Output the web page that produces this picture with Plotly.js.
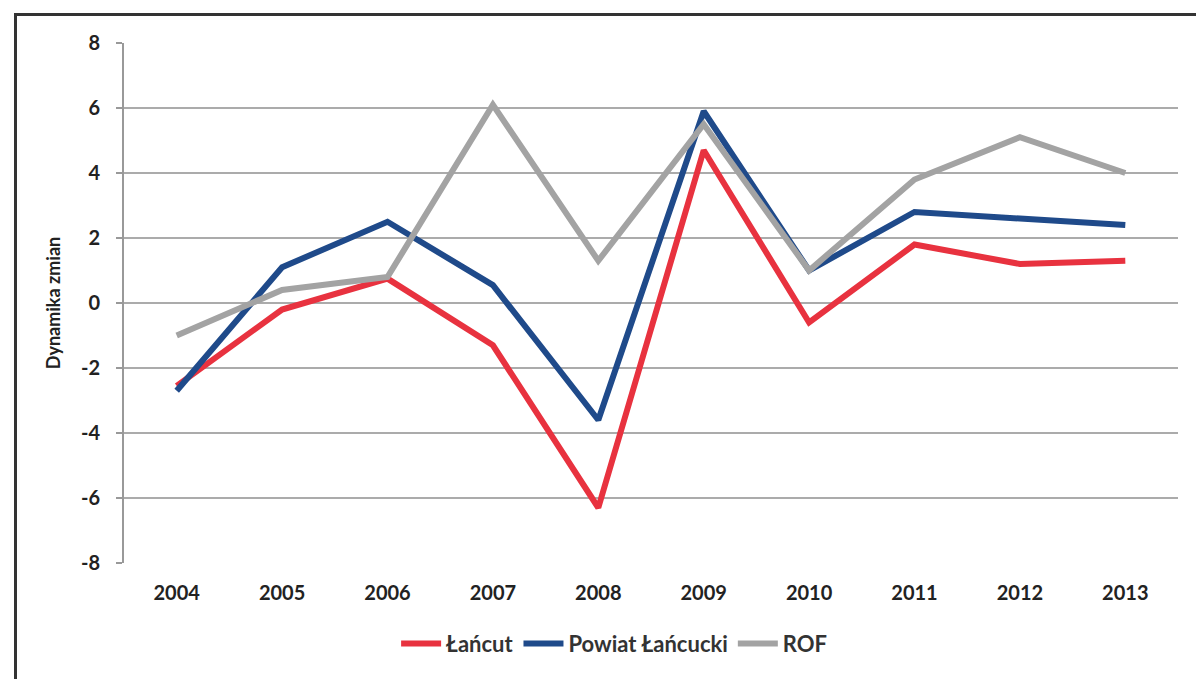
<!DOCTYPE html>
<html>
<head>
<meta charset="utf-8">
<script src="https://cdn.plot.ly/plotly-3.0.1.min.js"></script>
<style>
  html, body { margin: 0; padding: 0; background: #fff; }
  #frame { position: absolute; left: 14px; top: 13px; width: 1200px; height: 700px;
           border-top: 3px solid #333; border-left: 3px solid #333; box-sizing: border-box; }
  #chart { position: absolute; left: 0; top: 0; width: 1196px; height: 679px; }
</style>
</head>
<body>
<div id="frame"></div>
<div id="chart"></div>
<script>
const years = ['2004','2005','2006','2007','2008','2009','2010','2011','2012','2013'];
const lancut = [-2.55, -0.2, 0.75, -1.3, -6.3, 4.7, -0.6, 1.8, 1.2, 1.3];
const powiat = [-2.7, 1.1, 2.5, 0.55, -3.6, 5.9, 1.0, 2.8, 2.6, 2.4];
const rof = [-1.0, 0.4, 0.8, 6.1, 1.3, 5.5, 1.0, 3.8, 5.1, 4.0];
const seriesNames = ['Łańcut', 'Powiat Łańcucki', 'ROF'];
const yTicks = [-8, -6, -4, -2, 0, 2, 4, 6, 8];

const font = 'Lato, "Open Sans", sans-serif';
const traces = [
  {x: years, y: lancut, name: seriesNames[0], type: 'scatter', mode: 'lines',
   line: {color: '#E8323F', width: 6}},
  {x: years, y: powiat, name: seriesNames[1], type: 'scatter', mode: 'lines',
   line: {color: '#1F4A8A', width: 6}},
  {x: years, y: rof, name: seriesNames[2], type: 'scatter', mode: 'lines',
   line: {color: '#A3A3A3', width: 6}}
];
const layout = {
  width: 1196, height: 679,
  paper_bgcolor: 'rgba(0,0,0,0)', plot_bgcolor: 'rgba(0,0,0,0)',
  margin: {l: 124, r: 18, t: 43, b: 116},
  font: {family: font, color: '#222', size: 19, weight: 'bold'},
  showlegend: true,
  legend: {orientation: 'h', x: 0.465, xanchor: 'center', y: -0.115, yanchor: 'top',
           font: {family: font, size: 22, color: '#333', weight: 'bold'},
           itemwidth: 40, traceorder: 'normal'},
  xaxis: {type: 'category', range: [-0.5, 9.5], showgrid: false, zeroline: false, showline: false,
          ticks: '', tickfont: {family: font, size: 20, color: '#222', weight: 'bold'},
          ticklabelstandoff: 16, fixedrange: true},
  yaxis: {range: [-8, 8], tickvals: yTicks, ticktext: yTicks.map(String),
          showgrid: true, gridcolor: '#ABABAB', gridwidth: 2,
          zeroline: false, showline: true, linecolor: '#999', linewidth: 2,
          ticks: 'outside', ticklen: 6, tickcolor: '#999', tickwidth: 2,
          tickfont: {family: font, size: 20, color: '#222', weight: 'bold'},
          ticklabelstandoff: 12,
          title: {text: 'Dynamika zmian', standoff: 16,
                  font: {family: font, size: 18, color: '#222', weight: 'bold'}},
          fixedrange: true}
};
Plotly.newPlot('chart', traces, layout, {displayModeBar: false, staticPlot: true});
</script>
</body>
</html>
